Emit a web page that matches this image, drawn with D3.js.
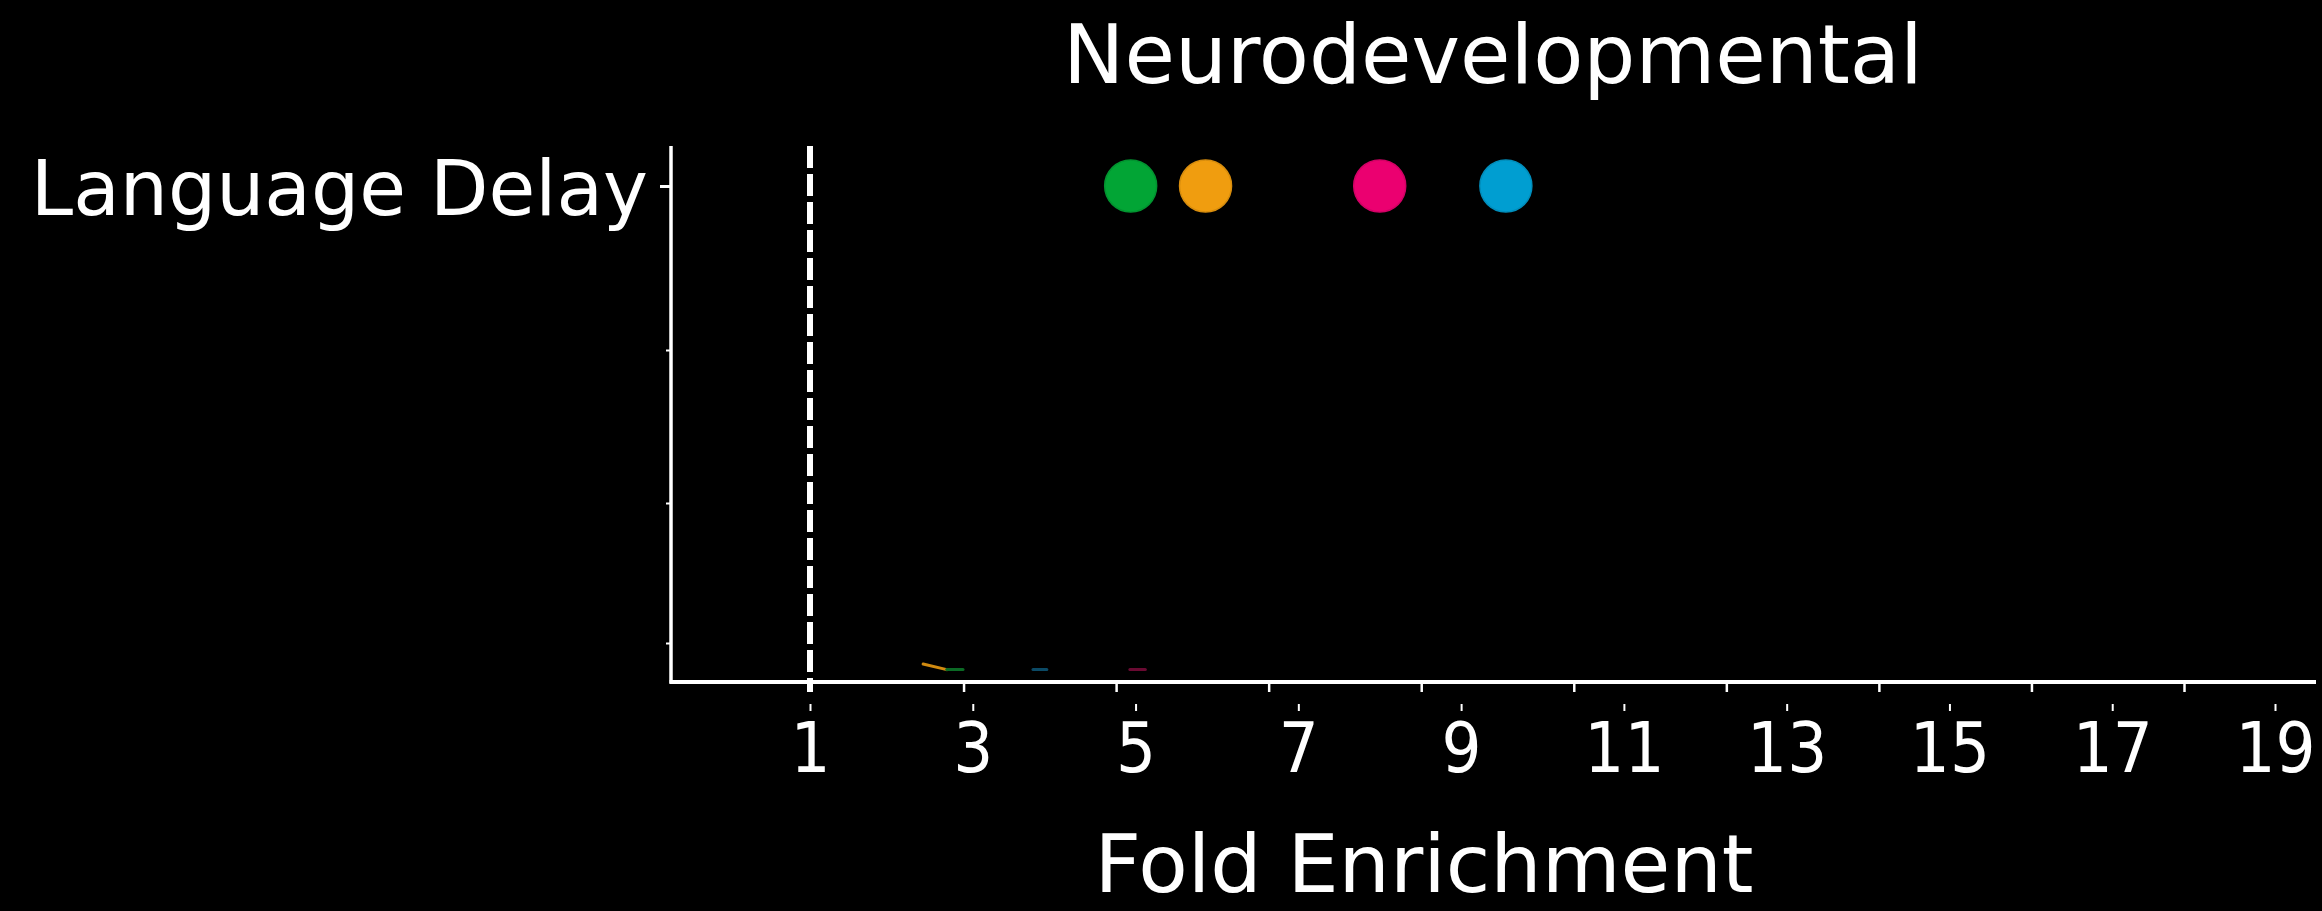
<!DOCTYPE html>
<html>
<head>
<meta charset="utf-8">
<script src="https://cdn.jsdelivr.net/npm/d3@7"></script>
<style>
  html, body { margin: 0; padding: 0; background: #000; }
  svg { display: block; font-family: "DejaVu Sans", sans-serif; }
</style>
</head>
<body>
<svg id="chart"></svg>
<script>
// Data
const categories = ["Language Delay", "", "", ""];
const groups = ["green", "orange", "pink", "blue"];
const groupColors = ["#02a535", "#f09d0f", "#eb0070", "#009ed1"];
const foldValues = [4.94, 5.86, 8.0, 9.55];
const xTicks = [1, 3, 5, 7, 9, 11, 13, 15, 17, 19];
const refValue = 1;
// faint traces near the baseline: [x0, x1, yStart, yEnd] in data units
const traceColors = ["#d08a10", "#0b6a25", "#0b4a66", "#6a0a32"];
const traceSegs = [[2.39, 2.68, 3.15, 3.19], [2.68, 2.88, 3.19, 3.19], [3.74, 3.91, 3.19, 3.19], [4.93, 5.12, 3.19, 3.19]];

const config = {
    width: 2322,
    height: 911,
    left: 671, right: 2316, top: 146, bottom: 682
};

const svg = d3.select("#chart")
    .attr("width", config.width)
    .attr("height", config.height);

// scale used by the labelled axis and the marks
const x = d3.scaleLinear().domain([1, 19]).range([810, 2275]);
// scale of the ticks sitting on the axis line
const xInner = d3.scaleLinear().domain([1, 19]).range([811, 2184]);
// rows are not evenly spaced in the picture
const y = d3.scaleLinear().domain([0, 1, 2, 3]).range([186, 350, 503, 643]);

// Title
svg.append("text")
    .attr("x", 1493).attr("y", 83)
    .attr("text-anchor", "middle")
    .attr("fill", "#fff")
    .attr("font-size", 82)
    .text("Neurodevelopmental");

// Faint traces
traceSegs.forEach((s, i) => {
    svg.append("line")
        .attr("x1", x(s[0])).attr("x2", x(s[1]))
        .attr("y1", y(s[2])).attr("y2", y(s[3]))
        .attr("stroke", traceColors[i])
        .attr("stroke-width", 3)
        .attr("stroke-linecap", "round");
});

// Reference line at fold = 1
svg.append("line")
    .attr("x1", x(refValue)).attr("x2", x(refValue))
    .attr("y1", config.top).attr("y2", config.bottom + 10)
    .attr("stroke", "#fff")
    .attr("stroke-width", 6)
    .attr("stroke-dasharray", "22,6");

// Y axis
const yAxisG = svg.append("g")
    .attr("transform", `translate(${config.left},0)`)
    .call(d3.axisLeft(y).tickValues([0, 1, 2, 3]).tickFormat(i => categories[i]).tickSize(5));
yAxisG.select(".domain").remove();
yAxisG.selectAll(".tick line")
    .attr("stroke", "#fff")
    .attr("stroke-width", (d, i) => i === 0 ? 3 : 2)
    .attr("x2", (d, i) => i === 0 ? -11 : -5);
yAxisG.selectAll(".tick text")
    .attr("fill", "#fff")
    .attr("font-size", 76)
    .attr("font-family", "DejaVu Sans")
    .attr("x", -23)
    .attr("dy", "0.38em");
svg.append("line")
    .attr("x1", config.left).attr("x2", config.left)
    .attr("y1", config.top).attr("y2", config.bottom + 1.5)
    .attr("stroke", "#fff").attr("stroke-width", 3.5);

// X axis line with its own ticks
const xInnerG = svg.append("g")
    .attr("transform", `translate(0,${config.bottom})`)
    .call(d3.axisBottom(xInner).tickValues(xTicks).tickFormat("").tickSize(10));
xInnerG.select(".domain").remove();
xInnerG.selectAll(".tick line").attr("stroke", "#fff").attr("stroke-width", 2.5);
svg.append("line")
    .attr("x1", config.left - 1.5).attr("x2", config.right)
    .attr("y1", config.bottom).attr("y2", config.bottom)
    .attr("stroke", "#fff").attr("stroke-width", 4);

// Labelled x axis
const xAxisG = svg.append("g")
    .attr("transform", "translate(0,704)")
    .call(d3.axisBottom(x).tickValues(xTicks).tickSize(7));
xAxisG.select(".domain").remove();
xAxisG.selectAll(".tick line").attr("stroke", "#fff").attr("stroke-width", 2);
xAxisG.selectAll(".tick text")
    .attr("fill", "#fff")
    .attr("font-size", 63)
    .attr("font-family", "DejaVu Sans")
    .attr("y", 0)
    .attr("dy", 0)
    .attr("transform", "translate(0,68) scale(1,1.1)");

// X axis title
svg.append("text")
    .attr("x", 1424).attr("y", 892)
    .attr("text-anchor", "middle")
    .attr("fill", "#fff")
    .attr("font-size", 81)
    .text("Fold Enrichment");

// Dots
svg.selectAll("circle.dot")
    .data(foldValues)
    .join("circle")
    .attr("class", "dot")
    .attr("cx", d => x(d))
    .attr("cy", y(0))
    .attr("r", 26)
    .attr("fill", (d, i) => groupColors[i])
    .attr("stroke", (d, i) => d3.color(groupColors[i]).darker(0.3))
    .attr("stroke-width", 1.5);
</script>
</body>
</html>
